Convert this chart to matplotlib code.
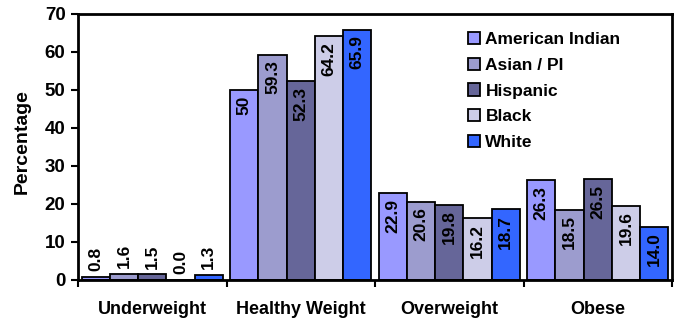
import numpy as np
import matplotlib
matplotlib.use('Agg')
from matplotlib import pyplot as plt

plt.rcParams['font.family'] = ['Liberation Sans', 'DejaVu Sans']
plt.rcParams['font.weight'] = 'bold'

categories = ['Underweight', 'Healthy Weight', 'Overweight', 'Obese']
groups = ['American Indian', 'Asian / PI', 'Hispanic', 'Black', 'White']
values = {
    'American Indian': [0.8, 50.0, 22.9, 26.3],
    'Asian / PI': [1.6, 59.3, 20.6, 18.5],
    'Hispanic': [1.5, 52.3, 19.8, 26.5],
    'Black': [0.0, 64.2, 16.2, 19.6],
    'White': [1.3, 65.9, 18.7, 14.0],
}
labels = {
    'American Indian': ['0.8', '50', '22.9', '26.3'],
    'Asian / PI': ['1.6', '59.3', '20.6', '18.5'],
    'Hispanic': ['1.5', '52.3', '19.8', '26.5'],
    'Black': ['0.0', '64.2', '16.2', '19.6'],
    'White': ['1.3', '65.9', '18.7', '14.0'],
}
colors = ['#9999FF', '#9C9CCE', '#666699', '#CDCDE8', '#3366FF']

fig = plt.figure(figsize=(6.76, 3.2), dpi=100)
ax = fig.add_axes([78 / 676, 40 / 320, 594 / 676, 266 / 320])

x = np.arange(len(categories))
w = 0.19
for i, g in enumerate(groups):
    xs = x + (i - 2) * w
    ax.bar(xs, values[g], width=w, color=colors[i], edgecolor='black',
           linewidth=1.3, label=g)
    for xi, v, lab in zip(xs, values[g], labels[g]):
        if v < 10:
            ax.text(xi, v + 1.5, lab, rotation=90, ha='center', va='bottom',
                    fontsize=12.5, fontweight='bold')
        else:
            ax.text(xi, v - 1.5, lab, rotation=90, ha='center', va='top',
                    fontsize=12.5, fontweight='bold')

ax.set_xlim(-0.5, 3.5)
ax.set_ylim(0, 70)
ax.set_yticks(range(0, 71, 10))
ax.set_xticks(np.arange(-0.5, 4.0, 1.0))
ax.set_xticklabels([])
ax.set_xticks(x, minor=True)
ax.set_xticklabels(categories, minor=True, fontsize=13, fontweight='bold')
ax.tick_params(axis='x', which='minor', length=0, pad=15)
ax.tick_params(axis='x', which='major', length=5, width=1.5, direction='out')
ax.tick_params(axis='y', length=5, width=1.5, labelsize=13.5, pad=4)
for s in ax.spines.values():
    s.set_linewidth(2)
ax.set_ylabel('Percentage', fontsize=14, fontweight='bold')
ax.yaxis.set_label_coords(-0.08, 0.52)

ax.legend(loc='upper left', bbox_to_anchor=(0.645, 0.96), frameon=False,
          fontsize=12.5, handlelength=0.7, handleheight=0.7, handletextpad=0.3,
          labelspacing=0.62, borderaxespad=0)

fig.savefig('out.png', dpi=100, facecolor='white')
plt.close()
